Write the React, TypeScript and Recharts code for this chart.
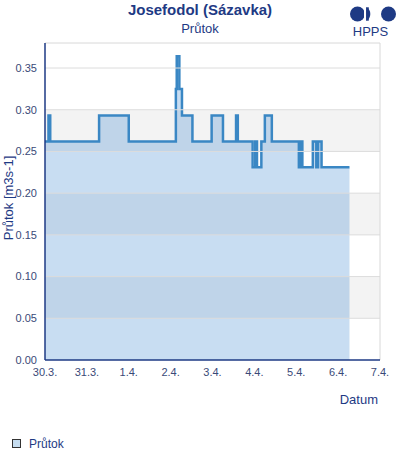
import React from 'react';
import { AreaChart, Area, XAxis, YAxis, ReferenceArea, ReferenceLine } from 'recharts';

const hours = [0, 2, 3, 31, 48, 75, 75.5, 77, 78.5, 84.5, 95.5, 102, 109.5, 110.5, 119, 120.5, 121.5, 124, 126, 130, 145.5, 146.5, 147.5, 153.5, 155.5, 156.5, 158.5, 174.5];
const flows = [0.262, 0.293, 0.262, 0.293, 0.262, 0.325, 0.364, 0.325, 0.293, 0.262, 0.293, 0.262, 0.293, 0.262, 0.231, 0.262, 0.231, 0.262, 0.293, 0.262, 0.231, 0.262, 0.231, 0.262, 0.231, 0.262, 0.231, 0.231];
const xTicks = [0, 24, 48, 72, 96, 120, 144, 168, 192];
const xLabels = ['30.3.', '31.3.', '1.4.', '2.4.', '3.4.', '4.4.', '5.4.', '6.4.', '7.4.'];
const yTicks = [0, 0.05, 0.1, 0.15, 0.2, 0.25, 0.3, 0.35];
const bands: [number, number][] = [[0.05, 0.1], [0.15, 0.2], [0.25, 0.3]];

const data = hours.map((h, i) => ({ h, v: flows[i] }));

const NAVY = '#1e3a84';
const TICK = '#3a4a78';
const FONT = '"Liberation Sans", Arial, sans-serif';

export default function App() {
  return (
    <div style={{ position: 'absolute', left: 0, top: 0, width: 400, height: 460, background: '#fff', fontFamily: FONT }}>
      <AreaChart width={400} height={460} data={data} margin={{ top: 43, right: 20, bottom: 70, left: 0 }}>
        {bands.map((b, i) => (
          <ReferenceArea key={'b' + i} y1={b[0]} y2={b[1]} fill="#f3f3f3" fillOpacity={1} stroke="none" ifOverflow="visible" />
        ))}
        {yTicks.slice(1).map((t) => (
          <ReferenceLine key={'g' + t} y={t} stroke="#dcdcdc" strokeWidth={1} />
        ))}
        <ReferenceLine y={0.38} stroke="#d8d8d8" strokeWidth={1} />
        <ReferenceLine x={192} stroke="#d8d8d8" strokeWidth={1} />
        <XAxis
          dataKey="h"
          type="number"
          domain={[0, 192]}
          ticks={xTicks}
          tickFormatter={(v: number) => xLabels[xTicks.indexOf(v)]}
          tickLine={false}
          axisLine={{ stroke: NAVY, strokeWidth: 1.5 }}
          tick={{ fill: TICK, fontSize: 11, fontFamily: FONT }}
          tickMargin={2}
          height={30}
          interval={0}
        />
        <YAxis
          type="number"
          domain={[0, 0.38]}
          ticks={yTicks}
          tickFormatter={(v: number) => v.toFixed(2)}
          tickLine={false}
          axisLine={{ stroke: NAVY, strokeWidth: 1.5 }}
          tick={{ fill: TICK, fontSize: 11, fontFamily: FONT }}
          tickMargin={2}
          width={45}
          interval={0}
        />
        <Area
          type="stepAfter"
          dataKey="v"
          stroke="#3a87c4"
          strokeWidth={2.5}
          fill="#2379cb"
          fillOpacity={0.25}
          isAnimationActive={false}
          dot={false}
          activeDot={false}
        />
      </AreaChart>
      <div style={{ position: 'absolute', left: 0, top: 1, width: 400, textAlign: 'center', fontSize: 15, fontWeight: 'bold', color: NAVY }}>
        Josefodol (Sázavka)
      </div>
      <div style={{ position: 'absolute', left: 0, top: 21, width: 400, textAlign: 'center', fontSize: 13, color: NAVY }}>
        Průtok
      </div>
      <svg style={{ position: 'absolute', left: 0, top: 0, pointerEvents: 'none' }} width={400} height={460}>
        <circle cx={357.5} cy={14} r={7.5} fill={NAVY} />
        <rect x={364} y={5} width={2.2} height={18} fill="#fff" />
        <path d="M366.2,7.3 A7.5,7.5 0 0 1 366.2,20.7 L366.2,7.3 Z" fill={NAVY} />
        <rect x={366.2} y={7.3} width={2.6} height={13.4} fill={NAVY} />
        <circle cx={388.5} cy={14} r={7.5} fill={NAVY} />
        <text x={370.5} y={36} textAnchor="middle" fontSize={13} fill={NAVY} fontFamily={FONT}>HPPS</text>
        <text x={0} y={0} transform="translate(12.5,198) rotate(-90)" textAnchor="middle" fontSize={13} fill={NAVY} fontFamily={FONT}>
          Průtok [m3s-1]
        </text>
        <text x={378} y={404} textAnchor="end" fontSize={13} fill={NAVY} fontFamily={FONT}>Datum</text>
        <rect x={12.5} y={439.5} width={8} height={8} fill="#c6ddf0" stroke="#333" strokeWidth={1} />
        <text x={29} y={448} fontSize={12} fill={NAVY} fontFamily={FONT}>Průtok</text>
      </svg>
    </div>
  );
}
